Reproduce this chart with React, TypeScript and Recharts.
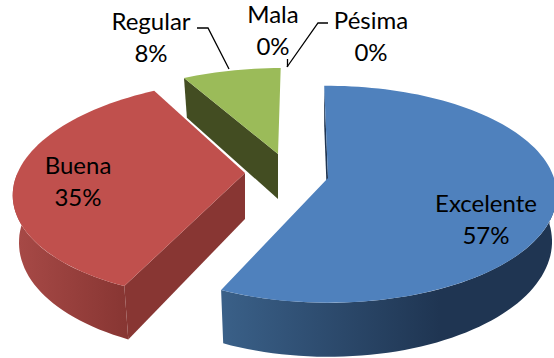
import React from 'react';
import { PieChart, Pie } from 'recharts';

const categories = ['Excelente', 'Buena', 'Regular', 'Mala', 'Pésima'];
const shares = [57, 35, 8, 0, 0];

// painted back to front, so the pie runs counter-clockwise from the top
const tableData = categories
  .map((name, i) => ({ name, value: shares[i] }))
  .reverse();

const TAU = Math.PI / 180;
const VANISH_X = 325;
const PERSPECTIVE = 0.15;

const sliceLook: Record<string, any> = {
  Excelente: { ax: 328, ay: 178, rx: 226, ry: 106, depth: 46, top: '#4f81bd', wall: '#1f3552', rim: 'url(#rimBlue)' },
  Buena: { ax: 245, ay: 173, rx: 227.5, ry: 107, depth: 46, top: '#c0504d', wall: '#883633', rim: 'url(#rimRed)' },
  Regular: { ax: 278, ay: 154, rx: 226, ry: 99, depth: 45, top: '#9bbb59', wall: '#434d22', rim: '#434d22' },
};

const labelLook: Record<string, { x: number; y: number; leader?: string }> = {
  Excelente: { x: 486, y: 212 },
  Buena: { x: 78, y: 174 },
  Regular: { x: 151, y: 30, leader: 'M197 28 L208 28 L229 69' },
  Mala: { x: 273, y: 23, leader: 'M287.5 59 L287.5 67' },
  'Pésima': { x: 371, y: 29, leader: 'M328 23 L318 23 L287 67' },
};

const project = (look: any, deg: number, down = 0) => {
  const u = Math.sin(deg * TAU);
  const v = -Math.cos(deg * TAU);
  const s = 1 / (1 - PERSPECTIVE * v);
  const x = VANISH_X + (look.ax - VANISH_X + look.rx * u) * s;
  const y = look.ay + look.ry * v * s + down * s;
  return { x: x + (VANISH_X - x) * (down / look.depth) * 0.02, y };
};

const apex = (look: any, down = 0) => ({ x: look.ax, y: look.ay + down });

const toPath = (pts: { x: number; y: number }[]) =>
  pts.map((p, i) => `${i ? 'L' : 'M'}${p.x.toFixed(1)} ${p.y.toFixed(1)}`).join(' ') + ' Z';

const arc = (look: any, from: number, to: number, down = 0) => {
  const pts = [];
  const steps = Math.max(2, Math.ceil(Math.abs(to - from) / 2));
  for (let i = 0; i <= steps; i++) pts.push(project(look, from + ((to - from) * i) / steps, down));
  return pts;
};

const Slice3D = (props: any) => {
  const look = sliceLook[props.name ?? props.payload?.name];
  if (!look || props.startAngle === props.endAngle) return null;
  // recharts angles run counter-clockwise from 3 o'clock, these run clockwise from the top
  const a = 450 - Math.max(props.startAngle, props.endAngle);
  const b = 450 - Math.min(props.startAngle, props.endAngle);
  const from = Math.max(a, 90);
  const to = Math.min(b, 270);
  return (
    <g>
      <defs>
        <linearGradient id="rimBlue" gradientUnits="userSpaceOnUse" x1="222" y1="0" x2="440" y2="0">
          <stop offset="0" stopColor="#3a6088" />
          <stop offset="1" stopColor="#1f3552" />
        </linearGradient>
        <linearGradient id="rimRed" gradientUnits="userSpaceOnUse" x1="13" y1="0" x2="125" y2="0">
          <stop offset="0" stopColor="#a84a47" />
          <stop offset="1" stopColor="#883633" />
        </linearGradient>
      </defs>
      {Math.sin(a * TAU) < 0 && (
        <path
          d={toPath([apex(look), project(look, a), project(look, a, look.depth), apex(look, look.depth)])}
          fill={look.wall}
        />
      )}
      {to > from && (
        <path
          d={toPath([...arc(look, from, to), ...arc(look, to, from, look.depth)])}
          fill={look.rim}
        />
      )}
      <path d={toPath([apex(look), ...arc(look, a, b)])} fill={look.top} />
    </g>
  );
};

const SliceLabel = (props: any) => {
  const look = labelLook[props.name];
  if (!look) return null;
  return (
    <g>
      {look.leader && <path d={look.leader} fill="none" stroke="#000" strokeWidth={1.3} />}
      <text x={look.x} y={look.y} textAnchor="middle" fontFamily="Lato" fontSize={24} fill="#000">
        <tspan x={look.x}>{props.name}</tspan>
        <tspan x={look.x} dy={32}>{props.value}%</tspan>
      </text>
    </g>
  );
};

export default function App() {
  return (
    <div style={{ position: 'absolute', left: 0, top: 0, width: 554, height: 358, overflow: 'hidden', background: '#fff' }}>
      <PieChart width={554} height={358} margin={{ top: 0, right: 0, bottom: 0, left: 0 }}>
        <Pie
          data={tableData}
          dataKey="value"
          nameKey="name"
          cx={328}
          cy={178}
          outerRadius={107}
          startAngle={91}
          endAngle={451}
          stroke="none"
          shape={Slice3D}
          label={SliceLabel}
          labelLine={false}
          isAnimationActive={false}
        />
      </PieChart>
    </div>
  );
}
